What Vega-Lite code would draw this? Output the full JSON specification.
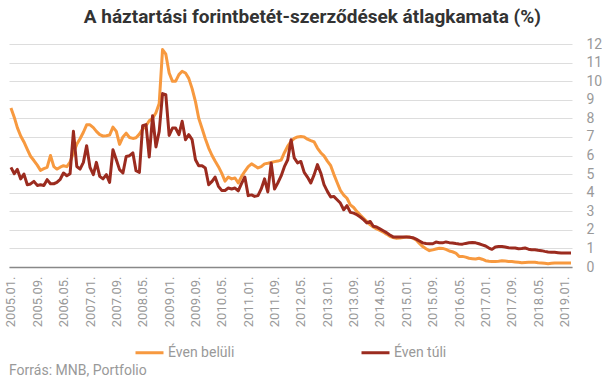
{
"$schema": "https://vega.github.io/schema/vega-lite/v6.json",
"padding": {"left": 4, "top": 8, "right": 0, "bottom": 0},
"background": "white",
"title": {"text": "A háztartási forintbetét-szerződések átlagkamata (%)", "fontSize": 19, "font": "Roboto", "fontWeight": "bold", "color": "#333333", "anchor": "middle", "offset": 10, "dx": 9},
"vconcat": [{
"width": 563,
"height": 223,
"title": {"text": "Forrás: MNB, Portfolio", "orient": "bottom", "anchor": "start", "frame": "group", "fontSize": 14, "fontWeight": "normal", "color": "#999999", "offset": 4, "font": "Roboto"},
"data": {"values": [
{"date":"2005-01","Éven belüli":8.56,"Éven túli":5.36},{"date":"2005-02","Éven belüli":8.05,"Éven túli":5.02},{"date":"2005-03","Éven belüli":7.5,"Éven túli":5.25},{"date":"2005-04","Éven belüli":7.05,"Éven túli":4.74},{"date":"2005-05","Éven belüli":6.73,"Éven túli":5.0},{"date":"2005-06","Éven belüli":6.33,"Éven túli":4.43},{"date":"2005-07","Éven belüli":5.96,"Éven túli":4.47},{"date":"2005-08","Éven belüli":5.73,"Éven túli":4.61},{"date":"2005-09","Éven belüli":5.48,"Éven túli":4.39},{"date":"2005-10","Éven belüli":5.2,"Éven túli":4.43},{"date":"2005-11","Éven belüli":5.29,"Éven túli":4.39},{"date":"2005-12","Éven belüli":5.36,"Éven túli":4.7},
{"date":"2006-01","Éven belüli":6.0,"Éven túli":4.48},{"date":"2006-02","Éven belüli":5.4,"Éven túli":4.48},{"date":"2006-03","Éven belüli":5.27,"Éven túli":4.55},{"date":"2006-04","Éven belüli":5.37,"Éven túli":4.72},{"date":"2006-05","Éven belüli":5.45,"Éven túli":5.06},{"date":"2006-06","Éven belüli":5.4,"Éven túli":4.91},{"date":"2006-07","Éven belüli":5.65,"Éven túli":5.02},{"date":"2006-08","Éven belüli":6.15,"Éven túli":7.3},{"date":"2006-09","Éven belüli":6.6,"Éven túli":5.41},{"date":"2006-10","Éven belüli":6.9,"Éven túli":5.27},{"date":"2006-11","Éven belüli":7.25,"Éven túli":5.63},{"date":"2006-12","Éven belüli":7.65,"Éven túli":6.53},
{"date":"2007-01","Éven belüli":7.65,"Éven túli":5.36},{"date":"2007-02","Éven belüli":7.5,"Éven túli":4.97},{"date":"2007-03","Éven belüli":7.3,"Éven túli":5.63},{"date":"2007-04","Éven belüli":7.12,"Éven túli":4.88},{"date":"2007-05","Éven belüli":7.05,"Éven túli":4.74},{"date":"2007-06","Éven belüli":7.06,"Éven túli":4.97},{"date":"2007-07","Éven belüli":7.1,"Éven túli":4.55},{"date":"2007-08","Éven belüli":7.53,"Éven túli":6.31},{"date":"2007-09","Éven belüli":7.3,"Éven túli":5.77},{"date":"2007-10","Éven belüli":6.6,"Éven túli":5.24},{"date":"2007-11","Éven belüli":7.0,"Éven túli":5.06},{"date":"2007-12","Éven belüli":7.2,"Éven túli":5.95},
{"date":"2008-01","Éven belüli":6.97,"Éven túli":5.99},{"date":"2008-02","Éven belüli":6.92,"Éven túli":6.14},{"date":"2008-03","Éven belüli":6.95,"Éven túli":5.18},{"date":"2008-04","Éven belüli":7.15,"Éven túli":5.09},{"date":"2008-05","Éven belüli":7.42,"Éven túli":7.6},{"date":"2008-06","Éven belüli":7.6,"Éven túli":7.66},{"date":"2008-07","Éven belüli":7.87,"Éven túli":5.92},{"date":"2008-08","Éven belüli":8.0,"Éven túli":8.14},{"date":"2008-09","Éven belüli":8.3,"Éven túli":6.46},{"date":"2008-10","Éven belüli":8.8,"Éven túli":7.3},{"date":"2008-11","Éven belüli":11.7,"Éven túli":9.33},{"date":"2008-12","Éven belüli":11.45,"Éven túli":9.27},
{"date":"2009-01","Éven belüli":10.44,"Éven túli":7.08},{"date":"2009-02","Éven belüli":9.99,"Éven túli":7.48},{"date":"2009-03","Éven belüli":9.99,"Éven túli":7.48},{"date":"2009-04","Éven belüli":10.35,"Éven túli":7.12},{"date":"2009-05","Éven belüli":10.53,"Éven túli":7.84},{"date":"2009-06","Éven belüli":10.44,"Éven túli":6.85},{"date":"2009-07","Éven belüli":10.15,"Éven túli":7.12},{"date":"2009-08","Éven belüli":9.6,"Éven túli":6.85},{"date":"2009-09","Éven belüli":8.9,"Éven túli":5.77},{"date":"2009-10","Éven belüli":8.0,"Éven túli":5.45},{"date":"2009-11","Éven belüli":7.45,"Éven túli":5.45},{"date":"2009-12","Éven belüli":6.9,"Éven túli":5.33},
{"date":"2010-01","Éven belüli":6.4,"Éven túli":4.43},{"date":"2010-02","Éven belüli":6.0,"Éven túli":4.61},{"date":"2010-03","Éven belüli":5.7,"Éven túli":4.84},{"date":"2010-04","Éven belüli":5.4,"Éven túli":4.34},{"date":"2010-05","Éven belüli":5.05,"Éven túli":4.12},{"date":"2010-06","Éven belüli":4.62,"Éven túli":4.12},{"date":"2010-07","Éven belüli":4.84,"Éven túli":4.25},{"date":"2010-08","Éven belüli":4.74,"Éven túli":4.2},{"date":"2010-09","Éven belüli":4.79,"Éven túli":4.25},{"date":"2010-10","Éven belüli":4.52,"Éven túli":4.1},{"date":"2010-11","Éven belüli":4.88,"Éven túli":4.5},{"date":"2010-12","Éven belüli":5.15,"Éven túli":4.84},
{"date":"2011-01","Éven belüli":5.4,"Éven túli":3.84},{"date":"2011-02","Éven belüli":5.55,"Éven túli":3.88},{"date":"2011-03","Éven belüli":5.45,"Éven túli":3.8},{"date":"2011-04","Éven belüli":5.33,"Éven túli":3.84},{"date":"2011-05","Éven belüli":5.4,"Éven túli":4.2},{"date":"2011-06","Éven belüli":5.55,"Éven túli":4.74},{"date":"2011-07","Éven belüli":5.58,"Éven túli":4.04},{"date":"2011-08","Éven belüli":5.62,"Éven túli":5.6},{"date":"2011-09","Éven belüli":5.67,"Éven túli":4.2},{"date":"2011-10","Éven belüli":5.7,"Éven túli":4.52},{"date":"2011-11","Éven belüli":5.75,"Éven túli":4.9},{"date":"2011-12","Éven belüli":6.15,"Éven túli":5.4},
{"date":"2012-01","Éven belüli":6.5,"Éven túli":5.77},{"date":"2012-02","Éven belüli":6.76,"Éven túli":6.85},{"date":"2012-03","Éven belüli":6.92,"Éven túli":5.87},{"date":"2012-04","Éven belüli":7.0,"Éven túli":5.6},{"date":"2012-05","Éven belüli":7.02,"Éven túli":5.68},{"date":"2012-06","Éven belüli":7.0,"Éven túli":5.09},{"date":"2012-07","Éven belüli":6.88,"Éven túli":4.84},{"date":"2012-08","Éven belüli":6.8,"Éven túli":4.52},{"date":"2012-09","Éven belüli":6.73,"Éven túli":4.97},{"date":"2012-10","Éven belüli":6.4,"Éven túli":5.51},{"date":"2012-11","Éven belüli":6.15,"Éven túli":5.06},{"date":"2012-12","Éven belüli":5.98,"Éven túli":4.43},
{"date":"2013-01","Éven belüli":5.7,"Éven túli":4.07},{"date":"2013-02","Éven belüli":5.45,"Éven túli":3.77},{"date":"2013-03","Éven belüli":5.0,"Éven túli":3.8},{"date":"2013-04","Éven belüli":4.55,"Éven túli":3.62},{"date":"2013-05","Éven belüli":4.12,"Éven túli":3.44},{"date":"2013-06","Éven belüli":3.87,"Éven túli":3.08},{"date":"2013-07","Éven belüli":3.7,"Éven túli":3.3},{"date":"2013-08","Éven belüli":3.34,"Éven túli":2.94},{"date":"2013-09","Éven belüli":3.2,"Éven túli":2.9},{"date":"2013-10","Éven belüli":2.98,"Éven túli":2.81},{"date":"2013-11","Éven belüli":2.79,"Éven túli":2.69},{"date":"2013-12","Éven belüli":2.62,"Éven túli":2.55},
{"date":"2014-01","Éven belüli":2.44,"Éven túli":2.37},{"date":"2014-02","Éven belüli":2.27,"Éven túli":2.45},{"date":"2014-03","Éven belüli":2.15,"Éven túli":2.19},{"date":"2014-04","Éven belüli":2.05,"Éven túli":2.15},{"date":"2014-05","Éven belüli":1.97,"Éven túli":2.05},{"date":"2014-06","Éven belüli":1.88,"Éven túli":1.95},{"date":"2014-07","Éven belüli":1.77,"Éven túli":1.85},{"date":"2014-08","Éven belüli":1.65,"Éven túli":1.72},{"date":"2014-09","Éven belüli":1.58,"Éven túli":1.62},{"date":"2014-10","Éven belüli":1.54,"Éven túli":1.61},{"date":"2014-11","Éven belüli":1.56,"Éven túli":1.61},{"date":"2014-12","Éven belüli":1.59,"Éven túli":1.61},
{"date":"2015-01","Éven belüli":1.61,"Éven túli":1.61},{"date":"2015-02","Éven belüli":1.61,"Éven túli":1.6},{"date":"2015-03","Éven belüli":1.55,"Éven túli":1.58},{"date":"2015-04","Éven belüli":1.45,"Éven túli":1.5},{"date":"2015-05","Éven belüli":1.27,"Éven túli":1.4},{"date":"2015-06","Éven belüli":1.1,"Éven túli":1.3},{"date":"2015-07","Éven belüli":0.98,"Éven túli":1.26},{"date":"2015-08","Éven belüli":0.88,"Éven túli":1.25},{"date":"2015-09","Éven belüli":0.92,"Éven túli":1.25},{"date":"2015-10","Éven belüli":0.97,"Éven túli":1.34},{"date":"2015-11","Éven belüli":1.01,"Éven túli":1.31},{"date":"2015-12","Éven belüli":1.0,"Éven túli":1.3},
{"date":"2016-01","Éven belüli":0.95,"Éven túli":1.35},{"date":"2016-02","Éven belüli":0.86,"Éven túli":1.31},{"date":"2016-03","Éven belüli":0.82,"Éven túli":1.29},{"date":"2016-04","Éven belüli":0.75,"Éven túli":1.26},{"date":"2016-05","Éven belüli":0.57,"Éven túli":1.24},{"date":"2016-06","Éven belüli":0.57,"Éven túli":1.23},{"date":"2016-07","Éven belüli":0.53,"Éven túli":1.27},{"date":"2016-08","Éven belüli":0.47,"Éven túli":1.3},{"date":"2016-09","Éven belüli":0.45,"Éven túli":1.32},{"date":"2016-10","Éven belüli":0.43,"Éven túli":1.3},{"date":"2016-11","Éven belüli":0.47,"Éven túli":1.25},{"date":"2016-12","Éven belüli":0.42,"Éven túli":1.19},
{"date":"2017-01","Éven belüli":0.34,"Éven túli":1.13},{"date":"2017-02","Éven belüli":0.31,"Éven túli":1.02},{"date":"2017-03","Éven belüli":0.3,"Éven túli":0.95},{"date":"2017-04","Éven belüli":0.3,"Éven túli":1.08},{"date":"2017-05","Éven belüli":0.31,"Éven túli":1.1},{"date":"2017-06","Éven belüli":0.34,"Éven túli":1.1},{"date":"2017-07","Éven belüli":0.32,"Éven túli":1.08},{"date":"2017-08","Éven belüli":0.3,"Éven túli":1.04},{"date":"2017-09","Éven belüli":0.29,"Éven túli":1.02},{"date":"2017-10","Éven belüli":0.27,"Éven túli":1.02},{"date":"2017-11","Éven belüli":0.25,"Éven túli":0.98},{"date":"2017-12","Éven belüli":0.23,"Éven túli":0.99},
{"date":"2018-01","Éven belüli":0.24,"Éven túli":1.02},{"date":"2018-02","Éven belüli":0.25,"Éven túli":0.96},{"date":"2018-03","Éven belüli":0.25,"Éven túli":0.93},{"date":"2018-04","Éven belüli":0.25,"Éven túli":0.93},{"date":"2018-05","Éven belüli":0.23,"Éven túli":0.9},{"date":"2018-06","Éven belüli":0.22,"Éven túli":0.88},{"date":"2018-07","Éven belüli":0.2,"Éven túli":0.84},{"date":"2018-08","Éven belüli":0.18,"Éven túli":0.81},{"date":"2018-09","Éven belüli":0.2,"Éven túli":0.79},{"date":"2018-10","Éven belüli":0.22,"Éven túli":0.79},{"date":"2018-11","Éven belüli":0.22,"Éven túli":0.77},{"date":"2018-12","Éven belüli":0.22,"Éven túli":0.75},
{"date":"2019-01","Éven belüli":0.22,"Éven túli":0.75},{"date":"2019-02","Éven belüli":0.22,"Éven túli":0.75},{"date":"2019-03","Éven belüli":0.22,"Éven túli":0.75}
]},
"transform": [{"fold": ["Éven belüli", "Éven túli"], "as": ["series", "value"]}],
"mark": {"type": "line", "strokeWidth": 3, "strokeJoin": "round"},
"encoding": {
"x": {"field": "date", "type": "temporal",
 "scale": {"domain": [{"year": 2004, "month": 12, "date": 14}, {"year": 2019, "month": 3, "date": 10}], "nice": false},
 "axis": {"title": null, "grid": false, "ticks": false, "tickSize": 0, "labelAngle": -90, "labelPadding": 9, "labelColor": "#999999", "labelFontSize": 13, "labelFont": "Roboto", "labelOverlap": false, "labelFlush": false, "format": "%Y.%m.", "domainColor": "#888888", "domainWidth": 1.5,
  "values": [{"year":2005,"month":1,"date":1},{"year":2005,"month":9,"date":1},{"year":2006,"month":5,"date":1},{"year":2007,"month":1,"date":1},{"year":2007,"month":9,"date":1},{"year":2008,"month":5,"date":1},{"year":2009,"month":1,"date":1},{"year":2009,"month":9,"date":1},{"year":2010,"month":5,"date":1},{"year":2011,"month":1,"date":1},{"year":2011,"month":9,"date":1},{"year":2012,"month":5,"date":1},{"year":2013,"month":1,"date":1},{"year":2013,"month":9,"date":1},{"year":2014,"month":5,"date":1},{"year":2015,"month":1,"date":1},{"year":2015,"month":9,"date":1},{"year":2016,"month":5,"date":1},{"year":2017,"month":1,"date":1},{"year":2017,"month":9,"date":1},{"year":2018,"month":5,"date":1},{"year":2019,"month":1,"date":1}]}},
"y": {"field": "value", "type": "quantitative",
 "scale": {"domain": [0, 12], "nice": false},
 "axis": {"orient": "right", "title": null, "values": [0,1,2,3,4,5,6,7,8,9,10,11,12], "domain": false, "ticks": false, "tickSize": 0, "labelPadding": 14, "labelAlign": "left", "labelColor": "#999999", "labelFontSize": 14, "labelFont": "Roboto", "gridColor": "#dddddd", "gridWidth": 1}},
"color": {"field": "series", "type": "nominal",
 "scale": {"domain": ["Éven belüli", "Éven túli"], "range": ["#F7993F", "#9B2B1F"]},
 "legend": {"title": null, "orient": "bottom", "direction": "horizontal", "symbolType": "stroke", "symbolStrokeWidth": 3, "symbolSize": 784, "labelFontSize": 14, "labelColor": "#999999", "labelFont": "Roboto", "columnPadding": 120, "offset": 10, "labelOffset": 3}}
}
}],
"resolve": {"scale": {"color": "independent"}, "legend": {"color": "independent"}},
"config": {"view": {"stroke": null}, "font": "Roboto", "legend": {"layout": {"bottom": {"anchor": "middle"}}}}
}
